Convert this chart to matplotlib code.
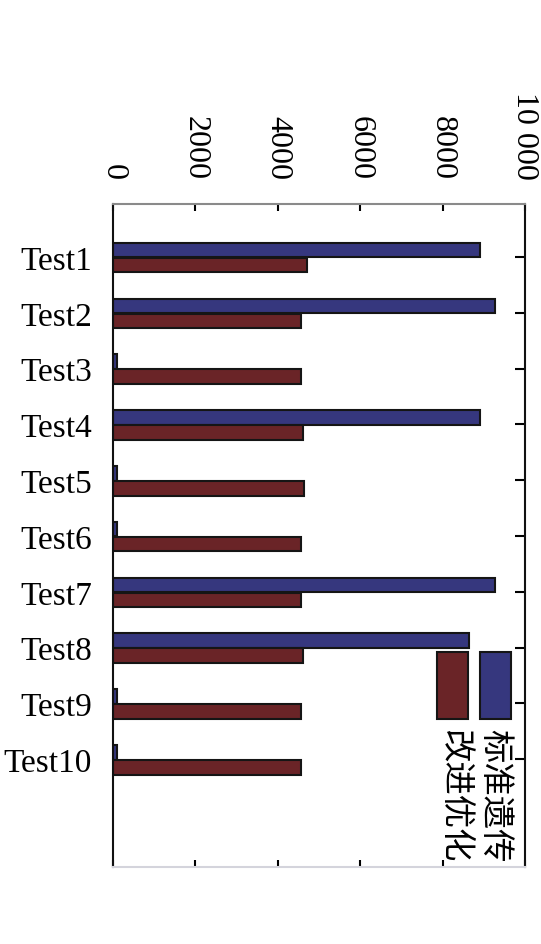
import numpy as np
import matplotlib.pyplot as plt
from matplotlib.patches import Rectangle

plt.rcParams['font.family'] = ['Liberation Serif', 'Noto Sans CJK SC', 'DejaVu Sans']

# dados
tests = ['Test1', 'Test2', 'Test3', 'Test4', 'Test5',
         'Test6', 'Test7', 'Test8', 'Test9', 'Test10']
padrao = [8920, 9260, 100, 8920, 100, 100, 9260, 8650, 100, 100]   # 标准遗传
melhorado = [4700, 4560, 4560, 4600, 4640, 4560, 4560, 4600, 4560, 4560]  # 改进优化
xticks = [0, 2000, 4000, 6000, 8000, 10000]
xtick_labels = ['0', '2000', '4000', '6000', '8000', '10 000']
nomes = ['标准遗传', '改进优化']
cores = ['#36377e', '#6a2427']

fig = plt.figure(figsize=(5.41, 9.45), dpi=100)
ax = fig.add_axes([0.2089, 0.0815, 0.7615, 0.7016])

y = np.arange(len(tests))
h = 0.26
ax.barh(y - 0.125, padrao, height=h, color=cores[0], edgecolor='#151515', linewidth=1.5)
ax.barh(y + 0.145, melhorado, height=h, color=cores[1], edgecolor='#151515', linewidth=1.5)

ax.set_xlim(0, 10000)
ax.set_ylim(10.93, -0.95)

ax.set_xticks(xticks)
ax.set_xticklabels(xtick_labels)
ax.set_yticks(y)
ax.set_yticklabels(tests)

ax.tick_params(axis='x', top=True, bottom=True, labeltop=True, labelbottom=False,
               direction='in', length=5, width=1.5, labelsize=23, labelrotation=-90, pad=18)
ax.tick_params(axis='y', left=False, right=True, labelleft=True, direction='in',
               length=7, width=1.5, labelsize=24, pad=15)

for lado in ['left', 'right']:
    ax.spines[lado].set_color('#111111')
    ax.spines[lado].set_linewidth(1.5)
ax.spines['top'].set_color('#8a8a8a')
ax.spines['top'].set_linewidth(1.5)
ax.spines['bottom'].set_color('#d4d4dc')
ax.spines['bottom'].set_linewidth(1.5)

# legenda girada, desenhada a mao
leg_x = [0.891, 0.786]
leg_txt = [0.927, 0.830]
for i in range(len(nomes)):
    ax.add_patch(Rectangle((leg_x[i], 0.223), 0.075, 0.101, transform=ax.transAxes,
                           facecolor=cores[i], edgecolor='#151515', linewidth=1.5, clip_on=False))
    ax.text(leg_txt[i], 0.209, nomes[i], transform=ax.transAxes, rotation=-90,
            ha='center', va='top', fontsize=24, fontweight='light',
            family=['Noto Sans CJK SC', 'DejaVu Sans'])

plt.savefig('out.png', dpi=100)
